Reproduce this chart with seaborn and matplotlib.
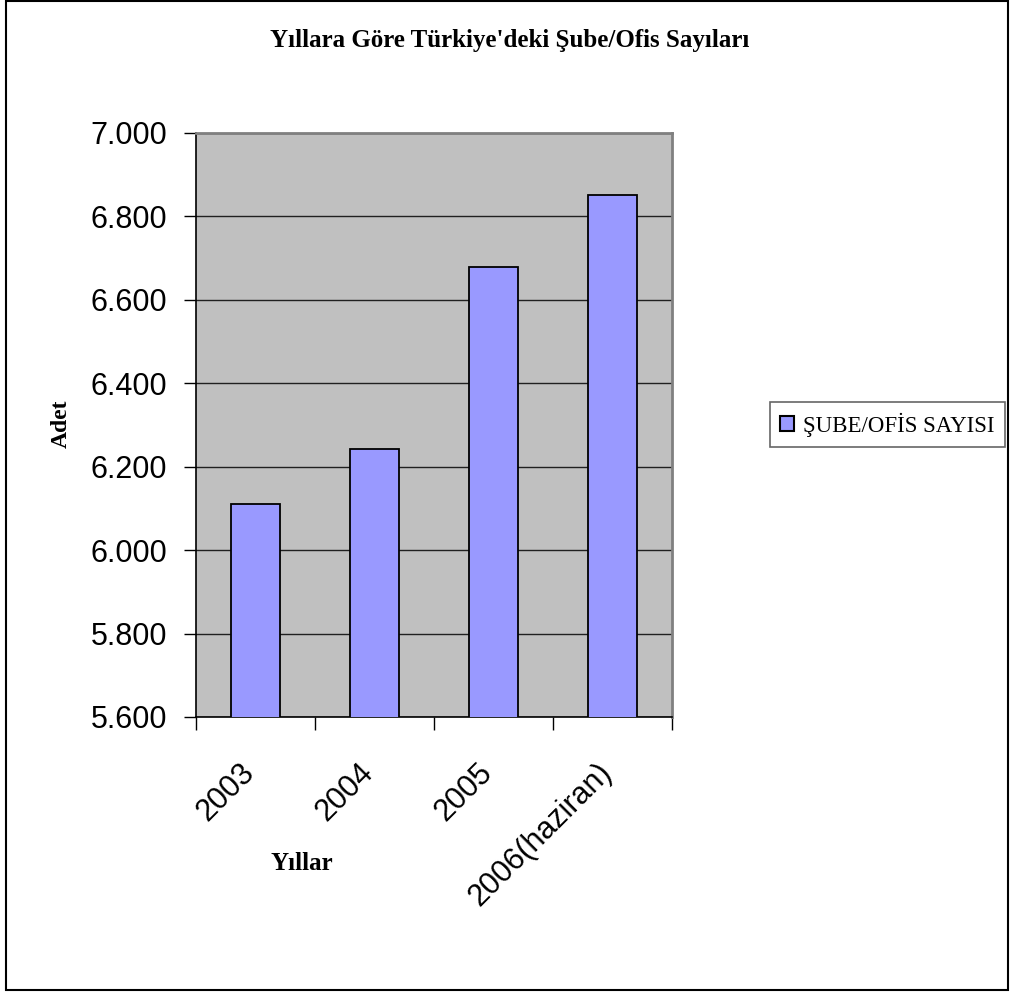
import matplotlib
matplotlib.use("Agg")
import matplotlib.pyplot as plt
import matplotlib.patches as mpatches
from matplotlib.ticker import FuncFormatter, FixedLocator
from matplotlib.transforms import ScaledTranslation
import seaborn as sns
import pandas as pd

years = ["2003", "2004", "2005", "2006(haziran)"]
branch_counts = [6110, 6243, 6679, 6852]
series_name = "ŞUBE/OFİS SAYISI"
y_ticks = [5600, 5800, 6000, 6200, 6400, 6600, 6800, 7000]

sns.set_theme(style="white")
plt.rcParams["font.family"] = ["Liberation Sans", "DejaVu Sans"]
plt.rcParams["text.color"] = "black"
plt.rcParams["xtick.color"] = "black"
plt.rcParams["ytick.color"] = "black"

df = pd.DataFrame({"Yıl": years, "Adet": branch_counts})

fig = plt.figure(figsize=(10.1, 9.94), dpi=100)
ax = fig.add_axes([196 / 1010, 277 / 994, 476 / 1010, 584 / 994])
ax.set_facecolor("#C0C0C0")

sns.barplot(data=df, x="Yıl", y="Adet", color="#9999FF", width=0.42,
            edgecolor="black", linewidth=1.3, saturation=1, ax=ax, zorder=3)

ax.set_ylim(5600, 7000)
ax.set_xlim(-0.5, 3.5)
ax.set_yticks(y_ticks)
ax.yaxis.set_major_formatter(FuncFormatter(lambda v, p: f"{int(v):,}".replace(",", ".")))
ax.yaxis.grid(True, color="#202020", linewidth=1.0, zorder=1)
ax.set_axisbelow(True)

# category boundaries carry the tick marks, labels sit under the centres
ax.xaxis.set_minor_locator(FixedLocator([-0.5, 0.5, 1.5, 2.5, 3.5]))
ax.tick_params(axis="x", which="major", length=0, pad=29, labelsize=22)
ax.tick_params(axis="x", which="minor", length=9, width=1, color="black", direction="out", bottom=True)
ax.tick_params(axis="y", which="major", length=9, width=1, color="black", direction="out",
               left=True, pad=12, labelsize=22)
shift = ScaledTranslation(-16 / 100, 0, fig.dpi_scale_trans)
for lbl in ax.get_xticklabels():
    lbl.set_rotation(45)
    lbl.set_ha("right")
    lbl.set_va("top")
    lbl.set_rotation_mode("anchor")
    lbl.set_transform(lbl.get_transform() + shift)

for side in ["left", "bottom"]:
    ax.spines[side].set_color("black")
    ax.spines[side].set_linewidth(1.2)
for side in ["top", "right"]:
    ax.spines[side].set_color("#808080")
    ax.spines[side].set_linewidth(2)

serif = ["Liberation Serif", "DejaVu Serif"]
ax.set_xlabel("")
ax.set_ylabel("")
fig.text(510 / 1010, 1 - 40 / 994, "Yıllara Göre Türkiye'deki Şube/Ofis Sayıları",
         family=serif, fontweight="bold", fontsize=18, ha="center", va="center")
fig.text(302 / 1010, 1 - 864 / 994, "Yıllar", family=serif, fontweight="bold",
         fontsize=18, ha="center", va="center")
fig.text(61 / 1010, 1 - 424 / 994, "Adet", family=serif, fontweight="bold",
         fontsize=17, ha="center", va="center", rotation=90)

handle = mpatches.Patch(facecolor="#9999FF", edgecolor="black", linewidth=1.5)
leg = fig.legend([handle], [series_name], loc="center left",
                 bbox_to_anchor=(770 / 1010, 1 - 424.5 / 994),
                 prop={"family": serif, "size": 16.5}, frameon=True, fancybox=False,
                 handlelength=0.6, handleheight=0.6, handletextpad=0.4,
                 borderpad=0.45, borderaxespad=0)
leg.get_frame().set_edgecolor("#404040")
leg.get_frame().set_linewidth(1.2)

fig.patches.append(mpatches.Rectangle((6 / 1010, 4 / 994), 1002 / 1010, 989 / 994,
                                      transform=fig.transFigure, fill=False,
                                      edgecolor="black", linewidth=1.5))

fig.savefig("out.png", dpi=100, facecolor="white")
